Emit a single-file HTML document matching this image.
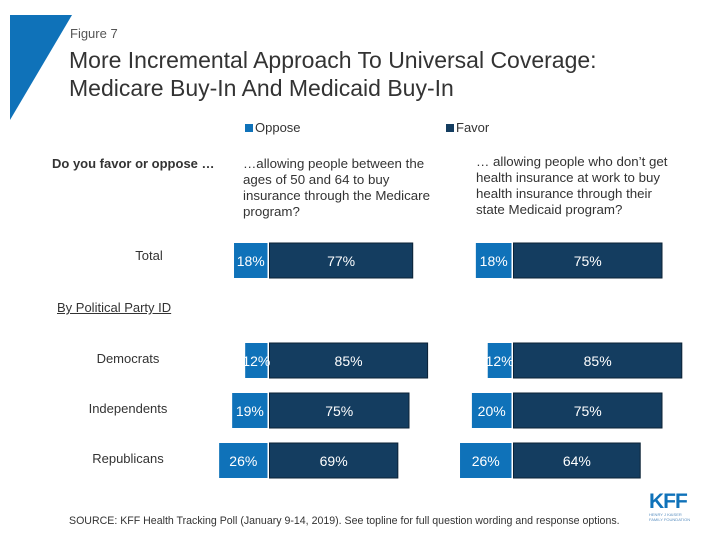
<!DOCTYPE html>
<html><head><meta charset="utf-8"><style>
body{margin:0;width:720px;height:540px;background:#fff;overflow:hidden;font-family:"Liberation Sans",sans-serif;position:relative;color:#333}
.t{position:absolute;white-space:nowrap}
</style></head><body>
<svg style="position:absolute;left:0;top:0" width="80" height="130"><polygon points="10,15 72,15 10,120" fill="#0f72b9"/></svg>
<div class="t" style="left:70px;top:26px;font-size:13px;color:#555">Figure 7</div>
<div class="t" style="left:69px;top:46px;font-size:23px;line-height:28px;color:#333">More Incremental Approach To Universal Coverage:<br>Medicare Buy-In And Medicaid Buy-In</div>
<div class="t" style="left:245px;top:120px;font-size:13px"><span style="display:inline-block;width:8px;height:8px;background:#0f72b9;margin-right:2px"></span>Oppose</div>
<div class="t" style="left:446px;top:120px;font-size:13px"><span style="display:inline-block;width:8px;height:8px;background:#143d60;margin-right:2px"></span>Favor</div>
<div class="t" style="left:52px;top:156px;font-size:13px;font-weight:bold">Do you favor or oppose …</div>
<div class="t" style="left:243px;top:156px;font-size:13.3px;line-height:16px">…allowing people between the<br>ages of 50 and 64 to buy<br>insurance through the Medicare<br>program?</div>
<div class="t" style="left:476px;top:154px;font-size:13.3px;line-height:16px">… allowing people who don’t get<br>health insurance at work to buy<br>health insurance through their<br>state Medicaid program?</div>
<div class="t" style="left:57px;top:300px;font-size:13px;text-decoration:underline">By Political Party ID</div>
<svg id="chart" style="position:absolute;left:0;top:0" width="720" height="540"></svg>
<div class="t" style="left:69px;top:515px;font-size:10.6px">SOURCE: KFF Health Tracking Poll (January 9-14, 2019). See topline for full question wording and response options.</div>
<div class="t" style="left:649px;top:492px;font-size:21px;font-weight:bold;color:#0f72b9;letter-spacing:-1px;line-height:20px">KFF<div style="font-size:4px;letter-spacing:0;line-height:5px;color:#5a8fc0;font-weight:normal">HENRY J KAISER<br>FAMILY FOUNDATION</div></div>
<script>
const categories=["Total","Democrats","Independents","Republicans"];
const medicareOppose=[18,12,19,26];
const medicareFavor=[77,85,75,69];
const medicaidOppose=[18,12,20,26];
const medicaidFavor=[75,85,75,64];
const rowTops=[243,343,393,443];
const svg=document.getElementById('chart');
const NS='http://www.w3.org/2000/svg';
function panel(opp,fav,div,scale){
  const x=v=>v*scale;
  categories.forEach((c,i)=>{
    const y=rowTops[i],h=35;
    const r1=document.createElementNS(NS,'rect');
    r1.setAttribute('x',div-x(opp[i]));r1.setAttribute('y',y);r1.setAttribute('width',x(opp[i]));r1.setAttribute('height',h);r1.setAttribute('fill','#0f72b9');
    
    
    svg.appendChild(r1);
    const r2=document.createElementNS(NS,'rect');
    r2.setAttribute('x',div+2);r2.setAttribute('y',y);r2.setAttribute('width',x(fav[i]));r2.setAttribute('height',h);r2.setAttribute('fill','#143d60');r2.setAttribute('stroke','#0b2236');
    
    
    svg.appendChild(r2);
    [[div-x(opp[i])/2,opp[i]],[div+2+x(fav[i])/2,fav[i]]].forEach(([cx,v])=>{
      const t=document.createElementNS(NS,'text');
      t.setAttribute('x',cx);t.setAttribute('y',y+23);t.setAttribute('text-anchor','middle');t.setAttribute('fill','#fff');t.setAttribute('font-size','14');t.setAttribute('font-family','Liberation Sans, sans-serif');
      t.textContent=v+'%';
      
      
      svg.appendChild(t);
    });
  });
}
panel(medicareOppose,medicareFavor,267.5,1.86);
panel(medicaidOppose,medicaidFavor,511.5,1.98);
categories.forEach((c,i)=>{
  const t=document.createElementNS(NS,'text');
  t.setAttribute('x',i==0?149:128);t.setAttribute('y',rowTops[i]+(i==0?17:20));t.setAttribute('text-anchor','middle');t.setAttribute('fill','#333');t.setAttribute('font-size','13');t.setAttribute('font-family','Liberation Sans, sans-serif');
  t.textContent=c;
  
  
  svg.appendChild(t);
});
</script>
</body></html>
